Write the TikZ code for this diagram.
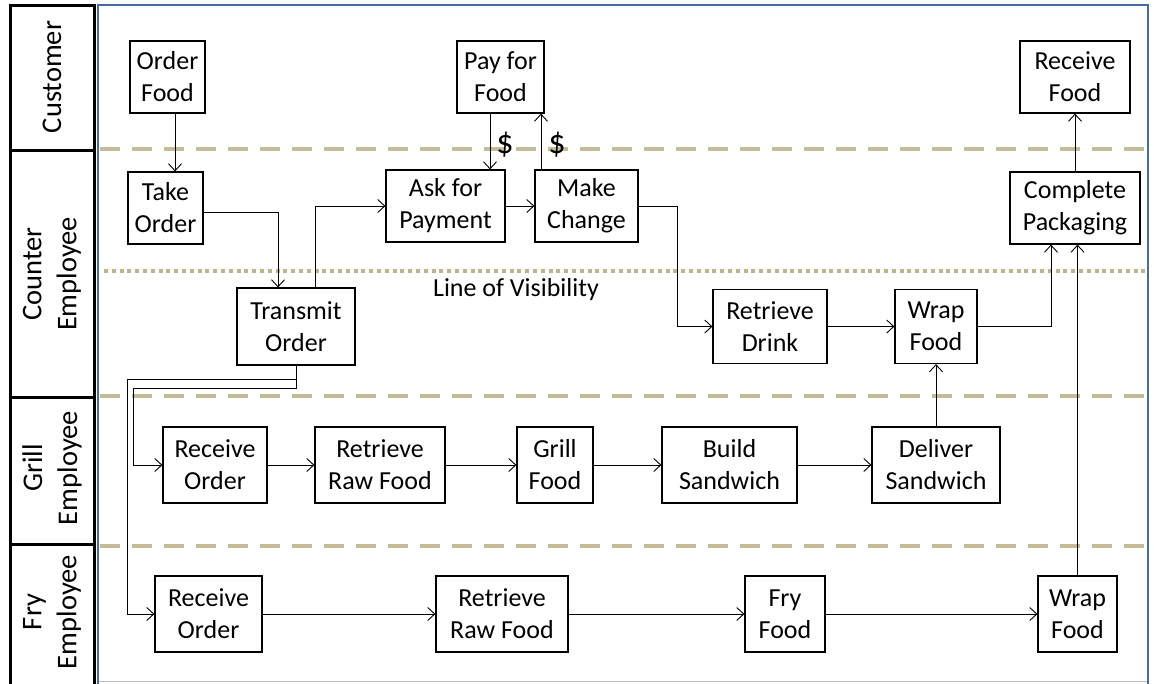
\documentclass[tikz,border=0pt]{standalone}
\usepackage{fontspec}
\setmainfont{Carlito}
\usetikzlibrary{arrows.meta}
\definecolor{lanetan}{RGB}{196,188,150}
\definecolor{dottan}{RGB}{190,180,140}
\definecolor{frameblue}{RGB}{70,108,160}
\begin{document}
\begin{tikzpicture}[x=1pt,y=-1pt,
  font=\fontsize{26}{32}\selectfont,
  box/.style={draw, line width=1.2pt, align=center, inner sep=0pt, fill=white},
  arr/.style={line width=0.9pt, -{Straight Barb[length=7pt,width=13pt]}},
  lanelbl/.style={rotate=90, align=center, font=\fontsize{28.5}{35}\selectfont},
  laneframe/.style={draw, line width=3pt},
  sep/.style={lanetan, line width=4pt, dash pattern=on 20pt off 12pt},
  vis/.style={dottan, line width=3.5pt, dash pattern=on 4pt off 3.8pt},
  money/.style={font=\fontsize{34}{38}\selectfont}]
\useasboundingbox (0,0) rectangle (1154,683);
% lane label frames
\draw[laneframe] (10,5) rectangle (94,150);
\draw[laneframe] (10,150) rectangle (94,397);
\draw[laneframe] (10,397) rectangle (94,544);
\draw[laneframe] (10,544) rectangle (94,700);
\node[lanelbl] (lcust) at (52,77) {Customer};
\node[lanelbl] (lcount) at (52,274) {Counter\\Employee};
\node[lanelbl] (lgrill) at (52,468) {Grill\\Employee};
\node[lanelbl] (lfry) at (52,612) {Fry\\Employee};
% main frame
\draw[black!25, line width=0.8pt] (98,681) -- (1148,681);
\draw[frameblue, line width=2.5pt] (98,690) -- (98,5) -- (1148,5) -- (1148,690);
% separators
\draw[sep] (100,149) -- (1146,149);
\draw[sep] (100,396) -- (1146,396);
\draw[sep] (100,546) -- (1146,546);
\draw[vis] (104,271) -- (1146,271);
\node (lov) at (516,290) {Line of Visibility};
% row 1: customer
\node[box, minimum width=75pt, minimum height=72pt] (of) at (167.5,77) {Order\\Food};
\node[box, minimum width=87pt, minimum height=72pt] (pf) at (500.5,77) {Pay for\\Food};
\node[box, minimum width=110pt, minimum height=72pt] (rf) at (1075,77) {Receive\\Food};
% row 2: counter (visible)
\node[box, minimum width=75pt, minimum height=72pt] (tk) at (165.5,208) {Take\\Order};
\node[box, minimum width=119pt, minimum height=72pt] (ap) at (445.5,206) {Ask for\\Payment};
\node[box, minimum width=103pt, minimum height=72pt] (mc) at (586.5,206) {Make\\Change};
\node[box, minimum width=130pt, minimum height=72pt] (cp) at (1075,208) {Complete\\Packaging};
% row 3: counter (invisible)
\node[box, minimum width=118pt, minimum height=77pt] (tm) at (296,326.5) {Transmit\\Order};
\node[box, minimum width=114pt, minimum height=74pt] (rd) at (770,326.5) {Retrieve\\Drink};
\node[box, minimum width=82pt, minimum height=74pt] (wf) at (936,326.5) {Wrap\\Food};
% row 4: grill
\node[box, minimum width=104pt, minimum height=76pt] (ro1) at (215,465) {Receive\\Order};
\node[box, minimum width=130pt, minimum height=76pt] (rr1) at (380,465) {Retrieve\\Raw Food};
\node[box, minimum width=76pt, minimum height=76pt] (gf) at (555,465) {Grill\\Food};
\node[box, minimum width=135pt, minimum height=76pt] (bs) at (729.5,465) {Build\\Sandwich};
\node[box, minimum width=128pt, minimum height=76pt] (ds) at (936,465) {Deliver\\Sandwich};
% row 5: fry
\node[box, minimum width=107pt, minimum height=76pt] (ro2) at (208.5,614) {Receive\\Order};
\node[box, minimum width=132pt, minimum height=76pt] (rr2) at (502,614) {Retrieve\\Raw Food};
\node[box, minimum width=80pt, minimum height=76pt] (ff) at (785,614) {Fry\\Food};
\node[box, minimum width=79pt, minimum height=76pt] (wf2) at (1077.5,614) {Wrap\\Food};
% connectors
\draw[arr] (of.south -| 175,0) -- (tk.north -| 175,0);
\draw[arr] (tk.east |- 0,212) -| (tm.north -| 278,0);
\draw[arr] (tm.north -| 315,0) |- (ap.west);
\draw[arr] (pf.south -| 490,0) -- (ap.north -| 490,0);
\node[money] (d1) at (505,145) {\$};
\draw[arr] (ap.east) -- (mc.west);
\draw[arr] (mc.north -| 541,0) -- (pf.south -| 541,0);
\node[money] (d2) at (557,145) {\$};
\coordinate (k1) at (677,326.5);
\draw[arr] (mc.east) -| (k1) -- (rd.west);
\draw[arr] (rd.east) -- (wf.west);
\draw[arr] (wf.east) -| (cp.south -| 1051,0);
\draw[arr] (wf2.north) -- (wf2.north |- cp.south);
\draw[arr] (cp.north) -- (rf.south);
\draw[arr] (ds.north) -- (wf.south);
\coordinate (t1) at (127,379);
\coordinate (t2) at (133,388);
\draw[arr] (tm.south) |- (t1) |- (ro2.west);
\draw[arr] (tm.south) |- (t2) |- (ro1.west);
\draw[arr] (ro1.east) -- (rr1.west);
\draw[arr] (rr1.east) -- (gf.west);
\draw[arr] (gf.east) -- (bs.west);
\draw[arr] (bs.east) -- (ds.west);
\draw[arr] (ro2.east) -- (rr2.west);
\draw[arr] (rr2.east) -- (ff.west);
\draw[arr] (ff.east) -- (wf2.west);
\end{tikzpicture}
\end{document}
